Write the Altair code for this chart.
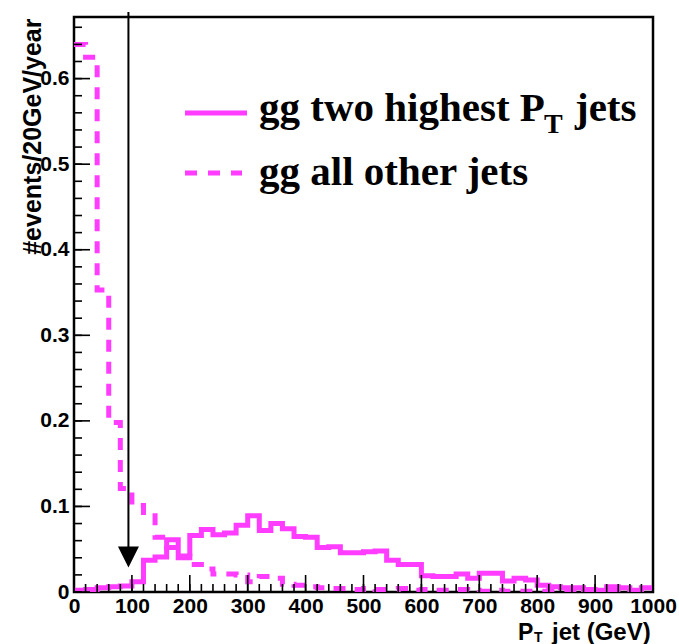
import altair as alt
import pandas as pd

# 20 GeV bins from 0 to 1000 GeV (lower edges)
bin_lo = list(range(0, 1000, 20))

# gg: the two highest-pT jets (#events / 20 GeV / year)
lead_jets = [0.002, 0.003, 0.005, 0.006, 0.007, 0.012, 0.037, 0.041, 0.061, 0.040,
             0.066, 0.073, 0.067, 0.069, 0.078, 0.089, 0.072, 0.080, 0.074, 0.065,
             0.064, 0.052, 0.053, 0.046, 0.046, 0.047, 0.048, 0.037, 0.032, 0.032,
             0.019, 0.018, 0.018, 0.021, 0.016, 0.022, 0.022, 0.013, 0.016, 0.014,
             0.008, 0.006, 0.005, 0.005, 0.003, 0.002, 0.006, 0.005, 0.002, 0.005]

# gg: all other jets
other_jets = [0.640, 0.625, 0.353, 0.198, 0.121, 0.101, 0.093, 0.064, 0.052, 0.042,
              0.032, 0.027, 0.021, 0.021, 0.020, 0.012, 0.018, 0.016, 0.009, 0.008,
              0.006, 0.005, 0.004, 0.004, 0.003, 0.004, 0.003, 0.003, 0.004, 0.002,
              0.003, 0.002, 0.002, 0.003, 0.002, 0.001, 0.002, 0.001, 0.001, 0.001,
              0.001, 0.001, 0.001, 0.001, 0.001, 0.001, 0.001, 0.001, 0.001, 0.001]

x_major = list(range(0, 1001, 100))
x_minor = list(range(0, 1001, 20))
y_major = [0.0, 0.1, 0.2, 0.3, 0.4, 0.5, 0.6]
y_minor = [round(0.02 * i, 2) for i in range(34)]

cut_value = 94          # pT cut marked by the arrow (GeV)
y_max = 0.672

MAGENTA = "#ff3cff"
W, H = 579, 575
SANS = "Liberation Sans"
SERIF = "Liberation Serif"


def step_frame(values):
    xs = bin_lo + [1000]
    ys = values + [values[-1]]
    return pd.DataFrame({"x": xs, "y": ys})


x_scale = alt.Scale(domain=[0, 1000], nice=False, zero=False)
y_scale = alt.Scale(domain=[0, y_max], nice=False, zero=True)

x_axis = alt.Axis(values=x_major, ticks=False, domain=False, grid=False,
                  labelFont=SANS, labelFontWeight="bold", labelFontSize=21,
                  labelColor="black", labelPadding=3, labelFlush=False,
                  labelExpr="format(datum.value, 'd')", title=None)
y_axis = alt.Axis(values=y_major, ticks=False, domain=False, grid=False,
                  labelFont=SANS, labelFontWeight="bold", labelFontSize=21,
                  labelColor="black", labelPadding=5,
                  labelExpr="datum.value == 0 ? '0' : format(datum.value, '.1f')",
                  title="#events/20GeV/year", titleFont=SANS, titleFontWeight="bold",
                  titleFontSize=25, titleColor="black", titleAngle=270,
                  titleAlign="right", titleBaseline="alphabetic", titleX=-34, titleY=1)


def X(field="x"):
    return alt.X(f"{field}:Q", scale=x_scale, axis=x_axis)


def Y(field="y"):
    return alt.Y(f"{field}:Q", scale=y_scale, axis=y_axis)


lead = alt.Chart(step_frame(lead_jets)).mark_line(
    interpolate="step-after", color=MAGENTA, strokeWidth=5, clip=True
).encode(x=X(), y=Y())

other = alt.Chart(step_frame(other_jets)).mark_line(
    interpolate="step-after", color=MAGENTA, strokeWidth=5,
    strokeDash=[12, 10], clip=True
).encode(x=X(), y=Y())

# inward tick marks along the bottom and left axes
xmaj = alt.Chart(pd.DataFrame({"x": x_major})).mark_rule(color="black", strokeWidth=1.6).encode(
    x=X(), y=alt.value(H), y2=alt.value(H - 17))
xmin = alt.Chart(pd.DataFrame({"x": x_minor})).mark_rule(color="black", strokeWidth=1.6).encode(
    x=X(), y=alt.value(H), y2=alt.value(H - 8))
ymaj = alt.Chart(pd.DataFrame({"y": y_major})).mark_rule(color="black", strokeWidth=1.6).encode(
    y=Y(), x=alt.value(0), x2=alt.value(16))
ymin = alt.Chart(pd.DataFrame({"y": y_minor})).mark_rule(color="black", strokeWidth=1.6).encode(
    y=Y(), x=alt.value(0), x2=alt.value(8))

# arrow marking the cut
cut_df = pd.DataFrame({"x": [cut_value], "y": [0.041]})
arrow_line = alt.Chart(cut_df).mark_rule(color="black", strokeWidth=2).encode(
    x=X(), y=alt.value(-5), y2=alt.value(535))
arrow_head = alt.Chart(cut_df).mark_point(
    shape="M-1,-1L1,-1L0,1Z", filled=True, color="black", opacity=1, size=441
).encode(x=X(), y=Y())

# legend
leg_solid = alt.Chart(pd.DataFrame({"k": [0]})).mark_rule(color=MAGENTA, strokeWidth=5).encode(
    x=alt.value(111), x2=alt.value(173), y=alt.value(96))
leg_dash = alt.Chart(pd.DataFrame({"k": [0]})).mark_rule(
    color=MAGENTA, strokeWidth=5, strokeDash=[12, 11]).encode(
    x=alt.value(111), x2=alt.value(168), y=alt.value(156))


def label(text, px, py, size, font, align="left"):
    return alt.Chart(pd.DataFrame({"t": [text]})).mark_text(
        font=font, fontWeight="bold", fontSize=size, color="black",
        align=align, baseline="alphabetic"
    ).encode(text="t:N", x=alt.value(px), y=alt.value(py))


leg_texts = [
    label("gg two highest P", 185, 104, 41, SERIF),
    label("T", 470, 116, 28, SERIF),
    label("jets", 501, 104, 41, SERIF),
    label("gg all other jets", 185, 168, 41, SERIF),
]

x_title = [
    label("P", 444, 623, 23, SANS),
    label("T", 460, 625, 14, SANS),
    label("jet (GeV)", 478, 623, 24, SANS),
]

chart = alt.layer(
    lead, other, xmaj, xmin, ymaj, ymin, arrow_line, arrow_head,
    leg_solid, leg_dash, *leg_texts, *x_title
).properties(
    width=W, height=H,
    padding={"left": 74, "top": 17, "right": 26, "bottom": 52},
    autosize="none",
).configure_view(stroke="black", strokeWidth=2.5)

chart.save("out.html", embed_options={"renderer": "svg", "actions": False})
